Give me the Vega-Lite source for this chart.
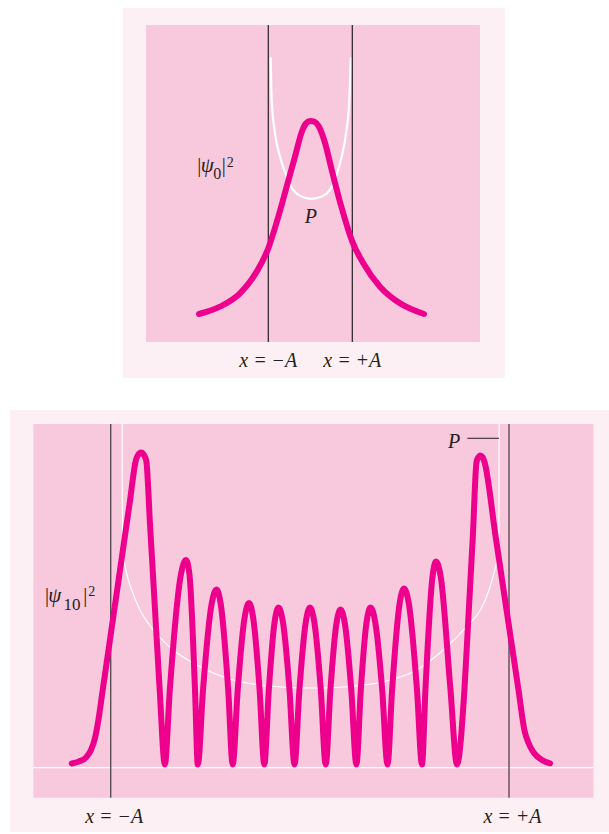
{
  "$schema": "https://vega.github.io/schema/vega-lite/v6.json",
  "padding": {"left": 10, "top": 8, "right": 0, "bottom": 0},
  "background": "white",
  "spacing": 32,
  "config": {"view": {"stroke": null}, "text": {"font": "Liberation Serif", "color": "#231F20"}},
  "resolve": {"scale": {"x": "independent", "y": "independent", "color": "independent"}},
  "datasets": {
    "topBoxes": [
      {"part": "outer", "x": -4.4595, "x2": 4.6357, "y": -0.1622, "y2": 1.5045},
      {"part": "inner", "x": -3.912, "x2": 4.040, "y": 0, "y2": 1.428}
    ],
    "topRules": [
      {"x": -1, "y": 0, "y2": 1.428},
      {"x": 1, "y": 0, "y2": 1.428}
    ],
    "topCurve": [
      {"x": -2.650, "y": 0.126}, {"x": -2.150, "y": 0.159}, {"x": -1.674, "y": 0.219},
      {"x": -1.276, "y": 0.317}, {"x": -1.000, "y": 0.422}, {"x": -0.762, "y": 0.564},
      {"x": -0.562, "y": 0.700}, {"x": -0.364, "y": 0.835}, {"x": -0.205, "y": 0.945},
      {"x": -0.100, "y": 0.985}, {"x": 0.000, "y": 0.996}, {"x": 0.100, "y": 0.992},
      {"x": 0.200, "y": 0.972}, {"x": 0.330, "y": 0.910}, {"x": 0.530, "y": 0.760},
      {"x": 0.740, "y": 0.609}, {"x": 1.000, "y": 0.452}, {"x": 1.262, "y": 0.355},
      {"x": 1.660, "y": 0.249}, {"x": 2.136, "y": 0.174}, {"x": 2.707, "y": 0.126}
    ],
    "topClassical": [
      {"x": -0.943, "y": 1.282}, {"x": -0.919, "y": 1.090}, {"x": -0.840, "y": 0.940},
      {"x": -0.721, "y": 0.835}, {"x": -0.562, "y": 0.745}, {"x": -0.405, "y": 0.685},
      {"x": -0.167, "y": 0.652}, {"x": 0.033, "y": 0.645}, {"x": 0.271, "y": 0.655},
      {"x": 0.469, "y": 0.685}, {"x": 0.612, "y": 0.745}, {"x": 0.748, "y": 0.835},
      {"x": 0.850, "y": 0.940}, {"x": 0.929, "y": 1.090}, {"x": 0.962, "y": 1.282}
    ],
    "topLabels": [
      {"role": "centered", "label": "x = −A", "x": -1.0, "y": -0.111},
      {"role": "centered", "label": "x = +A", "x": 1.0, "y": -0.111},
      {"role": "centered", "label": "P", "x": 0.012, "y": 0.535},
      {"role": "psi", "label": "ψ", "x": -2.610, "y": 0.764},
      {"role": "bar", "label": "|", "x": -2.690, "y": 0.764},
      {"role": "bar", "label": "|", "x": -2.110, "y": 0.764},
      {"role": "sub", "label": "0", "x": -2.310, "y": 0.733},
      {"role": "sup", "label": "2", "x": -1.990, "y": 0.790}
    ],
    "bottomBoxes": [
      {"part": "outer", "x": -1.5057, "x2": 1.5021, "y": -0.2045, "y2": 1.1377},
      {"part": "inner", "x": -1.3887, "x2": 1.4243, "y": -0.0954, "y2": 1.0932}
    ],
    "bottomRules": [
      {"x": -1, "y": -0.0954, "y2": 1.0932},
      {"x": 1, "y": -0.0954, "y2": 1.0932}
    ],
    "bottomBase": [
      {"x": -1.3887, "x2": 1.4243, "y": 0}
    ],
    "bottomTick": [
      {"x": 0.7906, "x2": 0.9498, "y": 1.0477}
    ],
    "bottomCurve": [
      {"x": -1.1958, "y": 0.0134}, {"x": -1.1592, "y": 0.0197}, {"x": -1.1240, "y": 0.0324},
      {"x": -1.0989, "y": 0.0563}, {"x": -1.0788, "y": 0.0945}, {"x": -1.0618, "y": 0.1517},
      {"x": -1.0402, "y": 0.2471}, {"x": -1.0111, "y": 0.3744}, {"x": -0.9749, "y": 0.5334},
      {"x": -0.9387, "y": 0.6924}, {"x": -0.9026, "y": 0.8515}, {"x": -0.8745, "y": 0.9755},
      {"x": -0.8629, "y": 0.9946}, {"x": -0.8478, "y": 1.0026}, {"x": -0.8328, "y": 0.9946},
      {"x": -0.8212, "y": 0.9755}, {"x": -0.8027, "y": 0.7751}, {"x": -0.7826, "y": 0.5589},
      {"x": -0.7540, "y": 0.2471}, {"x": -0.7283, "y": 0.0102},
      {"x": -0.7032, "y": 0.2471}, {"x": -0.6480, "y": 0.6129}, {"x": -0.6219, "y": 0.6606},
      {"x": -0.6043, "y": 0.6129}, {"x": -0.5767, "y": 0.2471}, {"x": -0.5626, "y": 0.0102},
      {"x": -0.5365, "y": 0.2471}, {"x": -0.4938, "y": 0.5191}, {"x": -0.4687, "y": 0.5668},
      {"x": -0.4472, "y": 0.5191}, {"x": -0.4100, "y": 0.2471}, {"x": -0.3874, "y": 0.0102},
      {"x": -0.3623, "y": 0.2471}, {"x": -0.3281, "y": 0.4761}, {"x": -0.3055, "y": 0.5239},
      {"x": -0.2845, "y": 0.4761}, {"x": -0.2523, "y": 0.2471}, {"x": -0.2287, "y": 0.0102},
      {"x": -0.2061, "y": 0.2471}, {"x": -0.1775, "y": 0.4618}, {"x": -0.1574, "y": 0.5096},
      {"x": -0.1348, "y": 0.4618}, {"x": -0.1022, "y": 0.2471}, {"x": -0.0771, "y": 0.0102},
      {"x": -0.0525, "y": 0.2471}, {"x": -0.0208, "y": 0.4618}, {"x": 0.0008, "y": 0.5096},
      {"x": 0.0228, "y": 0.4618}, {"x": 0.0550, "y": 0.2471}, {"x": 0.0796, "y": 0.0102},
      {"x": 0.1032, "y": 0.2471}, {"x": 0.1328, "y": 0.4555}, {"x": 0.1539, "y": 0.5032},
      {"x": 0.1765, "y": 0.4555}, {"x": 0.2081, "y": 0.2471}, {"x": 0.2337, "y": 0.0102},
      {"x": 0.2558, "y": 0.2471}, {"x": 0.2845, "y": 0.4618}, {"x": 0.3045, "y": 0.5096},
      {"x": 0.3286, "y": 0.4618}, {"x": 0.3633, "y": 0.2471}, {"x": 0.3899, "y": 0.0102},
      {"x": 0.4130, "y": 0.2471}, {"x": 0.4507, "y": 0.5223}, {"x": 0.4728, "y": 0.5700},
      {"x": 0.4969, "y": 0.5223}, {"x": 0.5380, "y": 0.2471}, {"x": 0.5631, "y": 0.0102},
      {"x": 0.5802, "y": 0.2471}, {"x": 0.6159, "y": 0.6081}, {"x": 0.6334, "y": 0.6559},
      {"x": 0.6570, "y": 0.6081}, {"x": 0.7062, "y": 0.2471}, {"x": 0.7389, "y": 0.0102},
      {"x": 0.7761, "y": 0.2471}, {"x": 0.7981, "y": 0.5016}, {"x": 0.8187, "y": 0.7401},
      {"x": 0.8368, "y": 0.9723}, {"x": 0.8468, "y": 0.9882}, {"x": 0.8559, "y": 0.9930},
      {"x": 0.8669, "y": 0.9882}, {"x": 0.8770, "y": 0.9723}, {"x": 0.9317, "y": 0.7401},
      {"x": 0.9854, "y": 0.5111}, {"x": 1.0477, "y": 0.2471}, {"x": 1.0773, "y": 0.1199},
      {"x": 1.0979, "y": 0.0786}, {"x": 1.1255, "y": 0.0468}, {"x": 1.1657, "y": 0.0245},
      {"x": 1.2059, "y": 0.0140}
    ],
    "bottomClassical": [
      {"x": -0.9423, "y": 1.0932}, {"x": -0.9418, "y": 0.8515}, {"x": -0.9408, "y": 0.7243},
      {"x": -0.9357, "y": 0.6765}, {"x": -0.9197, "y": 0.6183}, {"x": -0.8946, "y": 0.5652},
      {"x": -0.8529, "y": 0.5016}, {"x": -0.7861, "y": 0.4380}, {"x": -0.6857, "y": 0.3744},
      {"x": -0.5516, "y": 0.3212}, {"x": -0.3844, "y": 0.2790}, {"x": -0.2503, "y": 0.2630},
      {"x": -0.1162, "y": 0.2557}, {"x": 0.0008, "y": 0.2535}, {"x": 0.1263, "y": 0.2551},
      {"x": 0.2518, "y": 0.2615}, {"x": 0.3688, "y": 0.2735}, {"x": 0.5365, "y": 0.3108},
      {"x": 0.6701, "y": 0.3744}, {"x": 0.7876, "y": 0.4485}, {"x": 0.8594, "y": 0.5048},
      {"x": 0.8996, "y": 0.5652}, {"x": 0.9247, "y": 0.6193}, {"x": 0.9423, "y": 0.6765},
      {"x": 0.9488, "y": 0.7243}, {"x": 0.9498, "y": 0.8515}, {"x": 0.9503, "y": 1.0932}
    ],
    "bottomLabels": [
      {"role": "centered", "label": "x = −A", "x": -0.982, "y": -0.1768},
      {"role": "centered", "label": "x = +A", "x": 1.0176, "y": -0.1768},
      {"role": "centered", "label": "P", "x": 0.7249, "y": 1.0159},
      {"role": "psi", "label": "ψ", "x": -1.3133, "y": 0.5258},
      {"role": "bar", "label": "|", "x": -1.330, "y": 0.5258},
      {"role": "bar", "label": "|", "x": -1.1376, "y": 0.5258},
      {"role": "sub", "label": "10", "x": -1.2370, "y": 0.5016},
      {"role": "sup", "label": "2", "x": -1.1125, "y": 0.5461}
    ]
  },
  "vconcat": [
    {
      "width": 599,
      "height": 370,
      "encoding": {
        "x": {"field": "x", "type": "quantitative", "scale": {"domain": [-7.15, 7.112], "nice": false, "zero": false}, "axis": null},
        "y": {"field": "y", "type": "quantitative", "scale": {"domain": [-0.1622, 1.5045], "nice": false, "zero": false}, "axis": null}
      },
      "layer": [
        {
          "data": {"name": "topBoxes"},
          "mark": {"type": "rect"},
          "encoding": {
            "x2": {"field": "x2"},
            "y2": {"field": "y2"},
            "color": {"field": "part", "type": "nominal", "scale": {"domain": ["outer", "inner"], "range": ["#FDF0F4", "#F8C9DD"]}, "legend": null}
          }
        },
        {
          "data": {"name": "topClassical"},
          "mark": {"type": "line", "color": "#FFFFFF", "strokeWidth": 2.2, "interpolate": "monotone"},
          "encoding": {}
        },
        {
          "data": {"name": "topRules"},
          "mark": {"type": "rule", "color": "#231F20", "strokeWidth": 1.2},
          "encoding": {"y2": {"field": "y2"}}
        },
        {
          "data": {"name": "topCurve"},
          "mark": {"type": "line", "color": "#EC008C", "strokeWidth": 6, "strokeCap": "round", "strokeJoin": "round", "interpolate": "monotone"},
          "encoding": {}
        },
        {
          "data": {"name": "topLabels"},
          "transform": [{"filter": "datum.role === 'centered'"}],
          "mark": {"type": "text", "fontStyle": "italic", "fontSize": 20, "align": "center", "baseline": "alphabetic"},
          "encoding": {"text": {"field": "label"}}
        },
        {
          "data": {"name": "topLabels"},
          "transform": [{"filter": "datum.role === 'psi'"}],
          "mark": {"type": "text", "fontStyle": "italic", "fontSize": 21, "align": "left", "baseline": "alphabetic"},
          "encoding": {"text": {"field": "label"}}
        },
        {
          "data": {"name": "topLabels"},
          "transform": [{"filter": "datum.role === 'bar'"}],
          "mark": {"type": "text", "fontSize": 20, "align": "left", "baseline": "alphabetic"},
          "encoding": {"text": {"field": "label"}}
        },
        {
          "data": {"name": "topLabels"},
          "transform": [{"filter": "datum.role === 'sub'"}],
          "mark": {"type": "text", "fontSize": 16, "align": "left", "baseline": "alphabetic"},
          "encoding": {"text": {"field": "label"}}
        },
        {
          "data": {"name": "topLabels"},
          "transform": [{"filter": "datum.role === 'sup'"}],
          "mark": {"type": "text", "fontSize": 14, "align": "left", "baseline": "alphabetic"},
          "encoding": {"text": {"field": "label"}}
        }
      ]
    },
    {
      "width": 599,
      "height": 422,
      "encoding": {
        "x": {"field": "x", "type": "quantitative", "scale": {"domain": [-1.5057, 1.5021], "nice": false, "zero": false}, "axis": null},
        "y": {"field": "y", "type": "quantitative", "scale": {"domain": [-0.2045, 1.1377], "nice": false, "zero": false}, "axis": null}
      },
      "layer": [
        {
          "data": {"name": "bottomBoxes"},
          "mark": {"type": "rect"},
          "encoding": {
            "x2": {"field": "x2"},
            "y2": {"field": "y2"},
            "color": {"field": "part", "type": "nominal", "scale": {"domain": ["outer", "inner"], "range": ["#FDF0F4", "#F8C9DD"]}, "legend": null}
          }
        },
        {
          "data": {"name": "bottomBase"},
          "mark": {"type": "rule", "color": "#FFFFFF", "strokeWidth": 1.2},
          "encoding": {"x2": {"field": "x2"}}
        },
        {
          "data": {"name": "bottomClassical"},
          "mark": {"type": "line", "color": "#FFFFFF", "strokeWidth": 1.2, "interpolate": "monotone"},
          "encoding": {}
        },
        {
          "data": {"name": "bottomRules"},
          "mark": {"type": "rule", "color": "#4D4449", "strokeWidth": 1.3},
          "encoding": {"y2": {"field": "y2"}}
        },
        {
          "data": {"name": "bottomTick"},
          "mark": {"type": "rule", "color": "#231F20", "strokeWidth": 1},
          "encoding": {"x2": {"field": "x2"}}
        },
        {
          "data": {"name": "bottomCurve"},
          "mark": {"type": "line", "color": "#EC008C", "strokeWidth": 6, "strokeCap": "round", "strokeJoin": "round", "interpolate": "monotone"},
          "encoding": {}
        },
        {
          "data": {"name": "bottomLabels"},
          "transform": [{"filter": "datum.role === 'centered'"}],
          "mark": {"type": "text", "fontStyle": "italic", "fontSize": 20, "align": "center", "baseline": "alphabetic"},
          "encoding": {"text": {"field": "label"}}
        },
        {
          "data": {"name": "bottomLabels"},
          "transform": [{"filter": "datum.role === 'psi'"}],
          "mark": {"type": "text", "fontStyle": "italic", "fontSize": 21, "align": "left", "baseline": "alphabetic"},
          "encoding": {"text": {"field": "label"}}
        },
        {
          "data": {"name": "bottomLabels"},
          "transform": [{"filter": "datum.role === 'bar'"}],
          "mark": {"type": "text", "fontSize": 20, "align": "left", "baseline": "alphabetic"},
          "encoding": {"text": {"field": "label"}}
        },
        {
          "data": {"name": "bottomLabels"},
          "transform": [{"filter": "datum.role === 'sub'"}],
          "mark": {"type": "text", "fontSize": 17, "align": "left", "baseline": "alphabetic"},
          "encoding": {"text": {"field": "label"}}
        },
        {
          "data": {"name": "bottomLabels"},
          "transform": [{"filter": "datum.role === 'sup'"}],
          "mark": {"type": "text", "fontSize": 14, "align": "left", "baseline": "alphabetic"},
          "encoding": {"text": {"field": "label"}}
        }
      ]
    }
  ]
}
